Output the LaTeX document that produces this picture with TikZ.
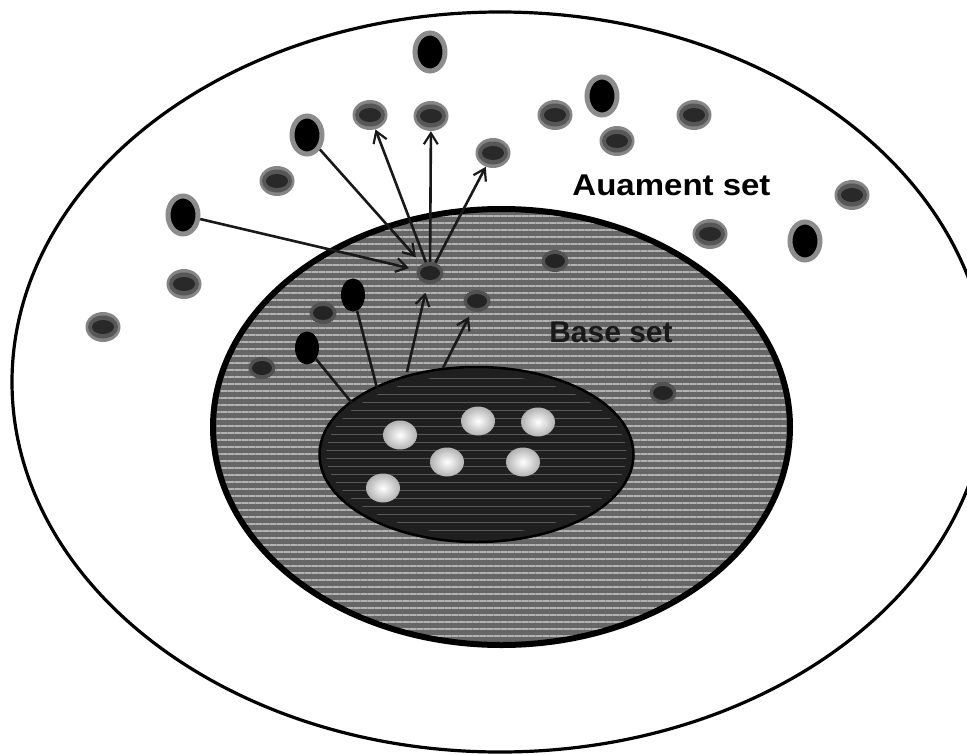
\documentclass[tikz,border=0pt]{standalone}
\usepackage{fontspec}
\setmainfont{Liberation Sans}
\usetikzlibrary{shapes.geometric,arrows.meta,patterns.meta}
\begin{document}
\begin{tikzpicture}[x=1pt,y=-1pt,
  blackdot/.style={ellipse,inner sep=0pt,minimum width=30pt,minimum height=38pt,fill=black,draw=black!45,line width=5pt},
  blackdotin/.style={ellipse,inner sep=0pt,minimum width=24pt,minimum height=33pt,fill=black},
  graydot/.style={ellipse,inner sep=0pt,minimum width=35pt,minimum height=30pt,fill=black!48,
    path picture={\fill[black!66] (path picture bounding box.center) ellipse [x radius=15pt,y radius=11.5pt];
      \fill[black!84] (path picture bounding box.center) ellipse [x radius=11pt,y radius=7pt];}},
  darkdot/.style={ellipse,inner sep=0pt,minimum width=27pt,minimum height=22pt,fill=black!68,
    path picture={\fill[black!86] (path picture bounding box.center) ellipse [x radius=10pt,y radius=7pt];}},
  whitedot/.style={ellipse,inner sep=0pt,minimum width=34pt,minimum height=29pt,shading=radial,inner color=white,outer color=black!30},
  conn/.style={line width=2.6pt,draw=black!90},
  arr/.style={conn,-{Straight Barb[length=11pt,width=14pt,line width=2.2pt]}},
  lbl/.style={font=\bfseries\fontsize{30}{36}\selectfont,inner sep=0pt,anchor=base}]
\useasboundingbox (0,0) rectangle (967,755);
\clip (0,0) rectangle (967,755);
% outer set
\node[ellipse,draw=black,line width=3.2pt,fill=white,minimum width=976pt,minimum height=740pt,inner sep=0pt] (outer) at (500,382) {};
% base set
\node[ellipse,draw=black,line width=6pt,fill=black!60,minimum width=577pt,minimum height=436pt,inner sep=0pt] (base) at (501.5,427) {};
\fill[pattern={Lines[angle=0,distance=7pt,line width=2.8pt]},pattern color=black!30] (501.5,427) ellipse [x radius=285pt,y radius=215pt];
% root set
\node[ellipse,draw=black,line width=2.5pt,fill=black!88,minimum width=314pt,minimum height=175pt,inner sep=0pt] (root) at (476.5,454.5) {};
\fill[pattern={Lines[angle=0,distance=8pt,line width=1pt]},pattern color=black!65] (476.5,454.5) ellipse [x radius=150pt,y radius=80pt];
% labels
\node[lbl] (augl) at (671.5,195) {\scalebox{1.1}[1]{Auament set}};
\node[lbl,text=black!90] (basel) at (611,342) {Base set};
% black dots (augment set)
\node[blackdot] (b1) at (430,52) {};
\node[blackdot] (b2) at (602,96) {};
\node[blackdot] (b3) at (307,135) {};
\node[blackdot] (b4) at (183,215) {};
\node[blackdot] (b5) at (805,241) {};
% black dots (base set)
\node[blackdotin] (b6) at (353,295) {};
\node[blackdotin] (b7) at (307,348) {};
% gray dots
\node[graydot] (g1) at (370,115) {};
\node[graydot] (g2) at (431,116) {};
\node[graydot] (g3) at (555,115) {};
\node[graydot] (g4) at (617,141) {};
\node[graydot] (g5) at (694,115) {};
\node[graydot] (g6) at (493,153) {};
\node[graydot] (g7) at (277,181) {};
\node[graydot] (g8) at (184,284) {};
\node[graydot] (g9) at (103,327) {};
\node[graydot] (g10) at (710,234) {};
\node[graydot] (g11) at (852,195) {};
% dark dots inside base set
\node[darkdot] (h) at (430,273) {};
\node[darkdot] (d1) at (477,301) {};
\node[darkdot] (d2) at (555,261) {};
\node[darkdot] (d3) at (323,313) {};
\node[darkdot] (d4) at (262,368) {};
\node[darkdot] (d5) at (663,393) {};
% white dots (root set)
\node[whitedot] (w1) at (400,435) {};
\node[whitedot] (w2) at (478,421) {};
\node[whitedot] (w3) at (538,422) {};
\node[whitedot] (w4) at (447,462) {};
\node[whitedot] (w5) at (523,462) {};
\node[whitedot] (w6) at (383,488) {};
% coordinates on root set boundary
\coordinate (s1) at (407,372);
\coordinate (s2) at (443,368);
\coordinate (e1) at (377,388);
\coordinate (e2) at (352,403);
% connectors
\draw[arr,shorten >=9pt] (b3) -- (h);
\draw[arr,shorten >=8pt] (b4) -- (h);
\draw[arr] (h) -- (g1);
\draw[arr] (h) -- (g2);
\draw[arr] (h) -- (g6);
\draw[arr,shorten >=9pt] (s1) -- (h);
\draw[arr,shorten >=6pt] (s2) -- (d1);
\draw[conn] (b6) -- (e1);
\draw[conn] (b7) -- (e2);
\end{tikzpicture}
\end{document}
